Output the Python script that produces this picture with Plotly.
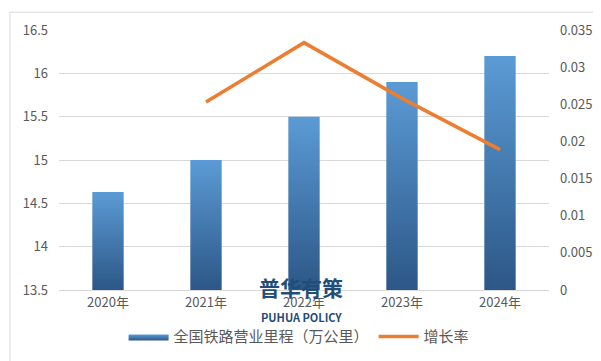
import plotly.graph_objects as go

years = ["2020年", "2021年", "2022年", "2023年", "2024年"]
mileage = [14.63, 15.0, 15.5, 15.9, 16.2]
growth = [None, 0.0253, 0.0333, 0.0258, 0.0189]
bar_name = "全国铁路营业里程（万公里）"
line_name = "增长率"

FONT = "Microsoft YaHei, Noto Sans CJK SC, sans-serif"
half_w = 0.16
base = 13.5

fig = go.Figure()
for i, v in enumerate(mileage):
    fig.add_trace(go.Scatter(
        x=[i - half_w, i + half_w, i + half_w, i - half_w, i - half_w],
        y=[base, base, v, v, base],
        mode="lines", line=dict(width=0, color="#4A89C8"),
        fill="toself",
        fillgradient=dict(type="vertical",
                          colorscale=[[0, "#2C5787"], [1, "#5B9BD5"]]),
        name=bar_name, legendgroup="bar", showlegend=(i == 0),
        hoverinfo="skip",
    ))

fig.add_trace(go.Scatter(
    x=list(range(len(years))), y=growth, mode="lines",
    line=dict(color="#ED7D31", width=3.5), name=line_name, yaxis="y2",
))

fig.update_layout(
    width=601, height=361,
    margin=dict(l=51, r=60, t=19, b=79),
    paper_bgcolor="white", plot_bgcolor="white",
    font=dict(family=FONT, size=13, color="#595959"),
    xaxis=dict(range=[-0.5, 4.5], tickvals=list(range(len(years))), ticktext=years,
               showgrid=False, zeroline=False, showline=True, linecolor="#D9D9D9",
               ticks="", tickfont=dict(size=13, color="#595959")),
    yaxis=dict(range=[13.5, 16.5], dtick=0.5, showgrid=True, gridcolor="#D9D9D9",
               zeroline=False, ticks="", tickfont=dict(size=13, color="#595959"),
               ticklabelstandoff=10),
    yaxis2=dict(range=[0, 0.035], dtick=0.005, overlaying="y", side="right",
                showgrid=False, zeroline=False, ticks="", tickformat="~g",
                tickfont=dict(size=13, color="#595959"), ticklabelstandoff=10),
    legend=dict(orientation="h", x=0.49, xanchor="center", y=-0.18, yanchor="middle",
                font=dict(size=15, color="#595959"), itemwidth=40,
                traceorder="normal"),
    showlegend=True,
    annotations=[
        dict(text="<b>普华有策</b>", x=0.494, y=-0.055, xref="paper", yref="paper",
             showarrow=False, font=dict(size=21, color="#1F4E79", family=FONT)),
        dict(text="<b>PUHUA POLICY</b>", x=0.494, y=-0.142, xref="paper", yref="paper",
             showarrow=False, font=dict(size=11, color="#1F4E79", family=FONT)),
    ],
    shapes=[dict(type="rect", xref="paper", yref="paper",
                 x0=(2 - 51) / 490, x1=(598 - 51) / 490,
                 y0=(282 - 358) / 263, y1=(282 - 1) / 263,
                 line=dict(color="#D9D9D9", width=1), layer="below")],
)

fig.write_html("out.html")
